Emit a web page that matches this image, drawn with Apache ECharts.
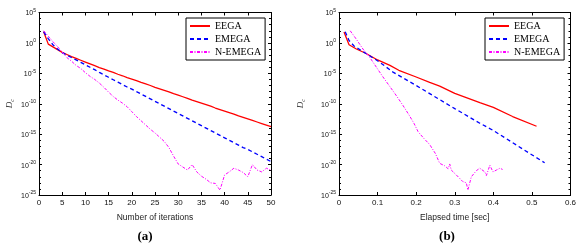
<!DOCTYPE html>
<html><head><meta charset="utf-8">
<script src="https://cdn.jsdelivr.net/npm/echarts@6/dist/echarts.min.js"></script>
<style>html,body{margin:0;padding:0;background:#fff}#c{width:582px;height:245px}</style>
</head><body><div id="c"></div>
<script>
// ---------- data (y values are log10 of D_c) ----------
const seriesNames = ['EEGA', 'EMEGA', 'N-EMEGA'];
const iterations = [1,2,3,4,5,6,7,8,9,10,11,12,13,14,15,16,17,18,19,20,21,22,23,24,25,26,27,28,29,30,31,32,33,34,35,36,37,38,39,40,41,42,43,44,45,46,47,48,49,50];
const eegaIter = [1.84,-0.2,-0.65,-1.1,-1.55,-1.9,-2.25,-2.55,-2.85,-3.15,-3.45,-3.75,-4.05,-4.3,-4.6,-4.85,-5.15,-5.4,-5.7,-5.95,-6.2,-6.5,-6.75,-7.0,-7.3,-7.55,-7.8,-8.05,-8.35,-8.6,-8.85,-9.1,-9.4,-9.65,-9.9,-10.15,-10.4,-10.7,-10.95,-11.2,-11.45,-11.7,-12.0,-12.25,-12.5,-12.75,-13.0,-13.25,-13.5,-13.75];
const emegaIter = [1.84,0.7,-0.3,-1.0,-1.6,-2.0,-2.4,-2.8,-3.2,-3.6,-4.0,-4.4,-4.85,-5.25,-5.65,-6.05,-6.45,-6.85,-7.25,-7.6,-8.0,-8.4,-8.8,-9.2,-9.6,-10.0,-10.4,-10.8,-11.2,-11.6,-12.0,-12.4,-12.8,-13.2,-13.6,-14.0,-14.4,-14.8,-15.2,-15.6,-16.0,-16.4,-16.8,-17.2,-17.5,-17.9,-18.3,-18.7,-19.1,-19.5];
const nemegaIter = [2.0,1.1,0.2,-0.6,-1.5,-2.4,-3.0,-3.7,-4.2,-4.9,-5.5,-6.0,-6.6,-7.3,-8.1,-8.8,-9.4,-9.9,-10.5,-11.3,-12.1,-12.8,-13.5,-14.2,-14.8,-15.5,-16.2,-17.2,-18.6,-19.9,-20.4,-20.9,-20.0,-21.2,-21.9,-22.4,-23.0,-23.1,-24.2,-21.7,-21.2,-20.6,-20.9,-21.3,-22.0,-20.0,-20.9,-21.2,-20.6,-20.9];

const eegaTime = [0.013,0.026,0.045,0.069,0.1,0.132,0.155,0.2,0.235,0.261,0.3,0.365,0.4,0.45,0.512];
const eegaTimeVal = [1.8,-0.3,-1.0,-1.7,-2.8,-3.7,-4.5,-5.6,-6.5,-7.1,-8.3,-9.8,-10.6,-12.1,-13.7];
const emegaTime = [0.016,0.026,0.039,0.069,0.104,0.14,0.2,0.3,0.365,0.4,0.45,0.495,0.533];
const emegaTimeVal = [1.84,0.4,-0.5,-1.7,-3.1,-4.8,-7.0,-10.8,-13.2,-14.4,-16.4,-18.2,-19.7];
const nemegaTime = [0.029,0.045,0.062,0.08,0.097,0.114,0.131,0.149,0.166,0.183,0.195,0.205,0.22,0.235,0.25,0.261,0.274,0.283,0.287,0.291,0.304,0.321,0.33,0.334,0.343,0.356,0.365,0.378,0.382,0.391,0.399,0.408,0.417,0.424];
const nemegaTimeVal = [2.0,0.6,-1.0,-2.4,-4.0,-5.6,-7.1,-8.7,-10.3,-12.0,-13.3,-14.6,-15.7,-16.7,-18.2,-19.8,-20.2,-20.7,-19.9,-20.9,-21.7,-22.8,-23.0,-24.2,-22.0,-21.0,-20.6,-21.2,-21.8,-20.1,-21.2,-20.9,-20.6,-20.8];

const yExpMin = -25, yExpMax = 5, yExpStep = 5;
const xIterMin = 0, xIterMax = 50, xIterStep = 5;
const xTimeMin = 0, xTimeMax = 0.6, xTimeStep = 0.1;
const panelLabels = ['(a)', '(b)'];
const xNames = ['Number of iterations', 'Elapsed time [sec]'];

// ---------- helpers ----------
const zip = (xs, ys) => xs.map((x, i) => [x, ys[i]]);
const tickFont = 'Liberation Sans';

function xAxisPair(gi, min, max, step, name) {
  const base = {
    gridIndex: gi, type: 'value', min, max, interval: step,
    axisLine: { onZero: false, lineStyle: { color: '#000', width: 1 } },
    axisTick: { inside: true, length: 3, lineStyle: { color: '#000' } },
    splitLine: { show: false }
  };
  return [
    Object.assign({}, base, {
      position: 'bottom',
      name, nameLocation: 'middle', nameGap: 18,
      nameTextStyle: { fontFamily: tickFont, fontSize: 8.5, color: '#222' },
      axisLabel: { fontFamily: tickFont, fontSize: 8, color: '#111', margin: 4,
        formatter: v => String(Math.round(v * 10) / 10) }
    }),
    Object.assign({}, base, { position: 'top', axisLabel: { show: false } })
  ];
}
function yAxisPair(gi, gap) {
  const base = {
    gridIndex: gi, type: 'value', min: yExpMin, max: yExpMax, interval: yExpStep,
    axisLine: { onZero: false, lineStyle: { color: '#000', width: 1 } },
    axisTick: { inside: true, length: 3, lineStyle: { color: '#000' } },
    minorTick: { show: true, splitNumber: 5, length: 2, lineStyle: { color: '#000' } },
    splitLine: { show: false }
  };
  return [
    Object.assign({}, base, {
      position: 'left',
      name: '{d|D}{s|c}', nameLocation: 'middle', nameGap: gap,
      nameTextStyle: { rich: {
        d: { fontFamily: 'Liberation Serif', fontStyle: 'italic', fontSize: 9, color: '#333' },
        s: { fontFamily: 'Liberation Serif', fontStyle: 'italic', fontSize: 6, color: '#333', padding: [5, 0, 0, 0] }
      } },
      axisLabel: { margin: 3, formatter: v => '{b|10}{s|' + v + '}',
        rich: {
          b: { fontFamily: tickFont, fontSize: 7, color: '#111', lineHeight: 9, verticalAlign: 'bottom' },
          s: { fontFamily: tickFont, fontSize: 5, color: '#111', lineHeight: 9, verticalAlign: 'top' }
        } }
    }),
    Object.assign({}, base, { position: 'right', axisLabel: { show: false } })
  ];
}
function lines(xi, yi, dRed, dBlue, dMag) {
  const common = { type: 'line', xAxisIndex: xi, yAxisIndex: yi, showSymbol: false, symbol: 'none', smooth: false, animation: false };
  return [
    Object.assign({ name: seriesNames[0], data: dRed, lineStyle: { color: '#ff0000', width: 1.3, type: 'solid' }, itemStyle: { color: '#ff0000' } }, common),
    Object.assign({ name: seriesNames[1], data: dBlue, lineStyle: { color: '#0000ff', width: 1.3, type: [4, 3] }, itemStyle: { color: '#0000ff' } }, common),
    Object.assign({ name: seriesNames[2], data: dMag, lineStyle: { color: '#ff00ff', width: 1, type: [3, 1.5, 1, 1.5] }, itemStyle: { color: '#ff00ff' } }, common)
  ];
}
function legendAt(left) {
  return {
    data: seriesNames, orient: 'vertical', left, top: 18,
    itemWidth: 20, itemHeight: 8, itemGap: 3, padding: [3, 4, 3, 3],
    borderColor: '#000', borderWidth: 1, backgroundColor: '#fff',
    itemStyle: { opacity: 0 },
    textStyle: { fontFamily: 'Liberation Serif', fontSize: 10, color: '#000' },
    selectedMode: false
  };
}

const chart = echarts.init(document.getElementById('c'), null, { renderer: 'canvas' });
chart.setOption({
  animation: false,
  backgroundColor: '#fff',
  grid: [
    { left: 39, top: 12.5, width: 232, height: 182.5, show: false },
    { left: 339, top: 12.5, width: 231.5, height: 182.5, show: false }
  ],
  xAxis: [
    ...xAxisPair(0, xIterMin, xIterMax, xIterStep, xNames[0]),
    ...xAxisPair(1, xTimeMin, xTimeMax, xTimeStep, xNames[1])
  ],
  yAxis: [
    ...yAxisPair(0, 24),
    ...yAxisPair(1, 33)
  ],
  legend: [legendAt(186), legendAt(485)],
  series: [
    ...lines(0, 0, zip(iterations, eegaIter), zip(iterations, emegaIter), zip(iterations, nemegaIter)),
    ...lines(2, 2, zip(eegaTime, eegaTimeVal), zip(emegaTime, emegaTimeVal), zip(nemegaTime, nemegaTimeVal))
  ],
  graphic: [
    { type: 'text', x: 145, y: 237, style: { text: panelLabels[0], fontFamily: 'Liberation Serif', fontWeight: 'bold', fontSize: 13, fill: '#000', align: 'center', verticalAlign: 'middle' } },
    { type: 'text', x: 447, y: 237, style: { text: panelLabels[1], fontFamily: 'Liberation Serif', fontWeight: 'bold', fontSize: 13, fill: '#000', align: 'center', verticalAlign: 'middle' } }
  ]
});
</script>
</body></html>
